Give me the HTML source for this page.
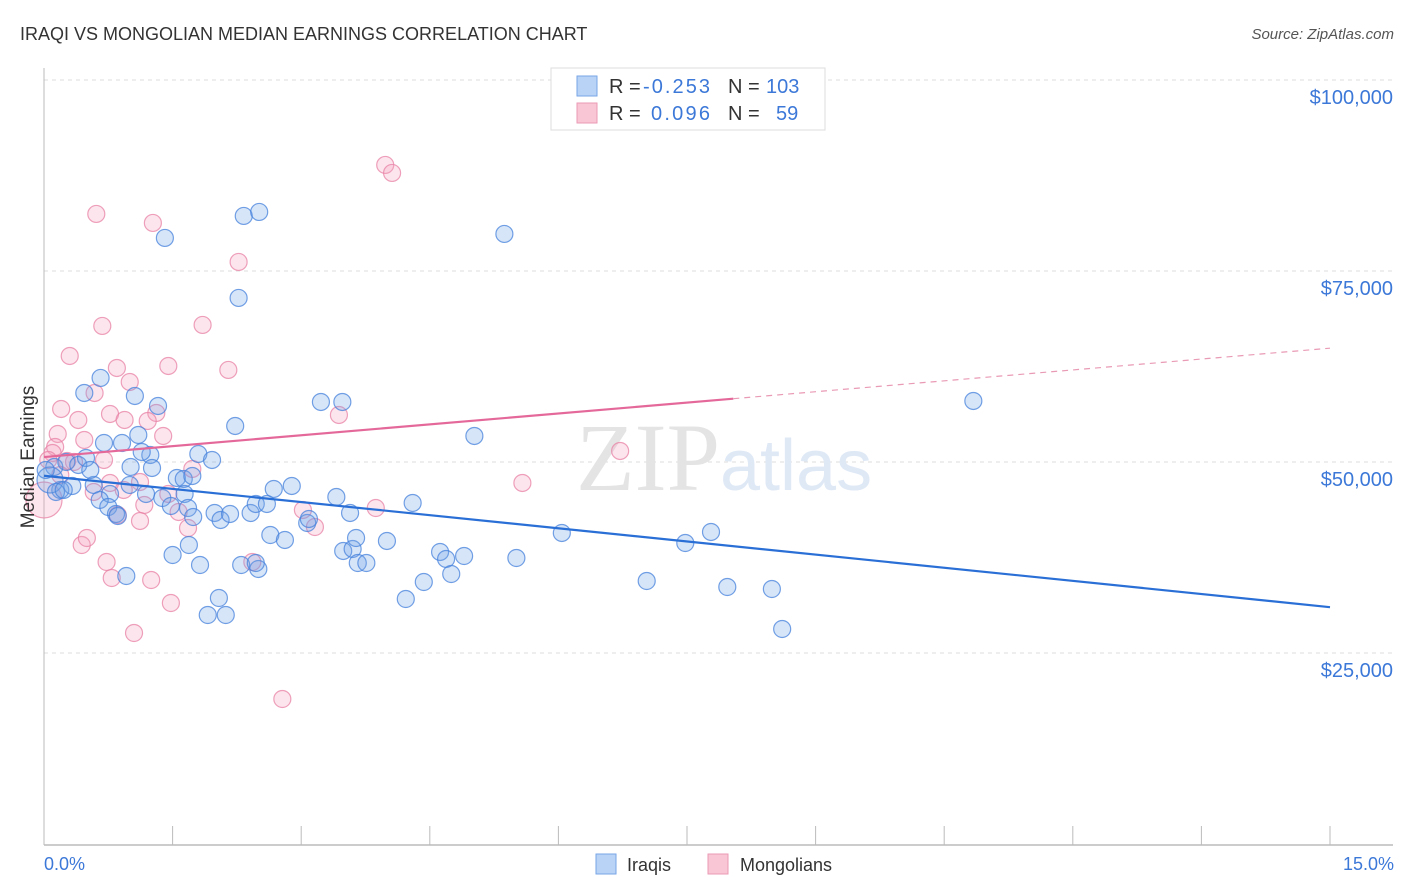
<!DOCTYPE html>
<html><head><meta charset="utf-8"><style>
body{margin:0;background:#fff;font-family:"Liberation Sans",sans-serif}
svg{display:block}
</style></head><body>
<svg id="chart" width="1406" height="892">
<text x="20" y="40" font-size="18" fill="#333">IRAQI VS MONGOLIAN MEDIAN EARNINGS CORRELATION CHART</text>
<text x="1394" y="39" font-size="15" fill="#555" font-style="italic" text-anchor="end">Source: ZipAtlas.com</text>
<g id="grid"></g>
<text x="720" y="490" font-size="96" fill="#e4e4e4" text-anchor="end" font-family="Liberation Serif,serif">ZIP</text>
<text x="720" y="490" font-size="72" fill="#dfe9f6">atlas</text>
<g id="axes"></g>
<g id="pts"></g>
<g id="trends"></g>
<text transform="translate(34,457) rotate(-90)" font-size="19" fill="#333" text-anchor="middle">Median Earnings</text>
<text x="44" y="870" font-size="18" fill="#3c78d8">0.0%</text>
<text x="1394" y="870" font-size="18" fill="#3c78d8" text-anchor="end">15.0%</text>
<g>
<rect x="551" y="68" width="274" height="62" fill="#fff" stroke="#ddd"/>
<rect x="577" y="76" width="20" height="20" fill="#b8d3f5" stroke="#7aa6e6"/>
<rect x="577" y="103" width="20" height="20" fill="#f8c6d5" stroke="#eb9ab5"/>
<text x="609" y="93" font-size="20" fill="#333">R =</text>
<text x="643" y="93" font-size="20" fill="#3c78d8" textLength="67">-0.253</text>
<text x="728" y="93" font-size="20" fill="#333">N =</text>
<text x="766" y="93" font-size="20" fill="#3c78d8">103</text>
<text x="609" y="120" font-size="20" fill="#333">R =</text>
<text x="651" y="120" font-size="20" fill="#3c78d8" textLength="59">0.096</text>
<text x="728" y="120" font-size="20" fill="#333">N =</text>
<text x="776" y="120" font-size="20" fill="#3c78d8">59</text>
</g>
<g>
<rect x="596" y="854" width="20" height="20" fill="#b8d3f5" stroke="#7aa6e6"/>
<text x="627" y="871" font-size="18" fill="#333">Iraqis</text>
<rect x="708" y="854" width="20" height="20" fill="#f8c6d5" stroke="#eb9ab5"/>
<text x="740" y="871" font-size="18" fill="#333">Mongolians</text>
</g>
</svg>
<script>
const yTicks=[25000,50000,75000,100000];
const yTickLabels=["$25,000","$50,000","$75,000","$100,000"];
const xTicks=[0,1.5,3,4.5,6,7.5,9,10.5,12,13.5,15];
const iraqiX=[1.41,2.33,2.51,5.37,2.27,10.84,0.66,0.47,1.06,1.33,2.23,3.23,3.48,5.02,0.70,0.91,1.10,1.24,1.14,1.80,1.96,1.01,1.26,0.12,0.26,0.40,0.49,0.19,0.33,0.58,0.77,0.65,1.00,1.19,1.55,1.63,1.73,1.38,1.48,1.64,1.68,0.75,0.84,0.86,1.74,1.99,2.06,2.17,2.41,2.47,2.60,2.68,2.89,3.07,3.09,3.41,3.57,4.30,2.64,2.81,1.50,1.69,1.82,2.30,2.50,2.47,3.49,3.60,3.64,3.66,3.76,4.00,4.62,4.69,4.90,4.75,4.43,5.51,6.04,7.03,7.48,7.78,7.97,8.49,8.61,0.96,2.04,1.91,2.12,4.22,0.07,0.14,0.23,0.02,0.54];
const iraqiY=[79325,82205,82729,79849,71471,57989,61000,59036,58643,57334,54716,57858,57858,53407,52491,52491,53538,50920,51313,51051,50266,49349,49218,49349,50004,49611,50527,46339,46862,46993,45815,45030,46993,45815,47909,47778,48171,45291,44244,45815,43982,44113,43197,42935,42804,43328,42412,43197,43328,44506,44506,46470,46862,42019,42543,45422,43328,44637,40448,39794,37830,39139,36521,36521,35998,36783,38354,38616,40055,36783,36783,39663,38223,37307,37699,35343,34296,37437,40710,34427,39401,40841,33641,33380,28144,35081,32201,29976,29976,32071,47648,46077,46339,48957,48957];
const mongolX=[3.98,4.06,0.61,1.27,2.27,0.68,1.85,0.30,1.45,2.15,0.85,1.00,0.59,0.20,0.77,0.94,1.31,1.21,3.44,0.40,0.16,1.39,0.13,0.47,0.10,0.05,0.35,0.70,0.27,1.73,0.58,0.93,0.77,1.45,1.12,1.57,1.17,0.86,1.12,3.02,3.16,3.87,5.58,6.72,0.44,0.50,0.73,0.79,1.25,2.43,1.48,1.05,2.78,1.68,0.19,0.0];
const mongolY=[88881,87834,82467,81289,76184,67806,67937,63879,62570,62047,62308,60476,59036,56942,56287,55502,56418,55371,56156,55502,53669,53407,51967,52884,51182,50266,50004,50266,50135,49088,46077,46339,47255,45815,47386,43459,44375,43066,42281,43721,41495,43982,47255,51444,39139,40055,36914,34819,34558,36914,31547,27620,18981,41364,48302,45030];
const iraqiTrend=[48200,31000];
const mongolTrend=[50650,64900];
const mongolSolidEnd=8.04;
const NS="http://www.w3.org/2000/svg";
const X0=44,X1=1330,Y0=844,YTOP=80;
function xs(v){return X0+v/15*(X1-X0);}
function ys(v){return Y0-v/100000*(Y0-YTOP);}
function mk(tag,attrs,parent){const e=document.createElementNS(NS,tag);for(const k in attrs)e.setAttribute(k,attrs[k]);parent.appendChild(e);return e;}
const grid=document.getElementById('grid'),axes=document.getElementById('axes'),pts=document.getElementById('pts'),tr=document.getElementById('trends');
yTicks.forEach((t,i)=>{
 const l=mk('line',{x1:X0,x2:1393,y1:ys(t),y2:ys(t),stroke:'#ddd','stroke-dasharray':'4,4'},grid);
 
 
 const tx=mk('text',{x:1393,y:ys(t)+24,'font-size':20,fill:'#3c78d8','text-anchor':'end'},grid);
 tx.textContent=yTickLabels[i];
 
 
});
const al=mk('line',{x1:X0,x2:X0,y1:68,y2:845,stroke:'#bbb'},axes);


const bl=mk('line',{x1:X0,x2:1393,y1:845,y2:845,stroke:'#bbb','stroke-width':1.5},axes);


xTicks.forEach(t=>{
 const l=mk('line',{x1:xs(t),x2:xs(t),y1:826,y2:845,stroke:'#bbb'},axes);
 
 
});
function drawSeries(xa,ya,fill,stroke,name,bigIdx,bigR){
 xa.forEach((x,i)=>{
  const c=mk('circle',{cx:xs(x),cy:ys(ya[i]),r:i===bigIdx?bigR:8.5,fill:fill,stroke:stroke,'stroke-width':1.2},pts);
  
  
 });
}
drawSeries(mongolX,mongolY,'rgba(245,160,190,0.28)','rgba(232,130,165,0.75)','mongolian-point',mongolX.length-1,18);
drawSeries(iraqiX,iraqiY,'rgba(110,160,230,0.28)','rgba(70,130,220,0.75)','iraqi-point',90,13);
const bt=mk('line',{x1:xs(0),x2:xs(15),y1:ys(iraqiTrend[0]),y2:ys(iraqiTrend[1]),stroke:'#2a6fd6','stroke-width':2.2},tr);


const mEnd=mongolTrend[0]+(mongolTrend[1]-mongolTrend[0])*mongolSolidEnd/15;
const pt=mk('line',{x1:xs(0),x2:xs(mongolSolidEnd),y1:ys(mongolTrend[0]),y2:ys(mEnd),stroke:'#e4699a','stroke-width':2.2},tr);


const pd=mk('line',{x1:xs(mongolSolidEnd),x2:xs(15),y1:ys(mEnd),y2:ys(mongolTrend[1]),stroke:'#e99ab5','stroke-width':1.2,'stroke-dasharray':'6,5'},tr);


</script>
</body></html>
